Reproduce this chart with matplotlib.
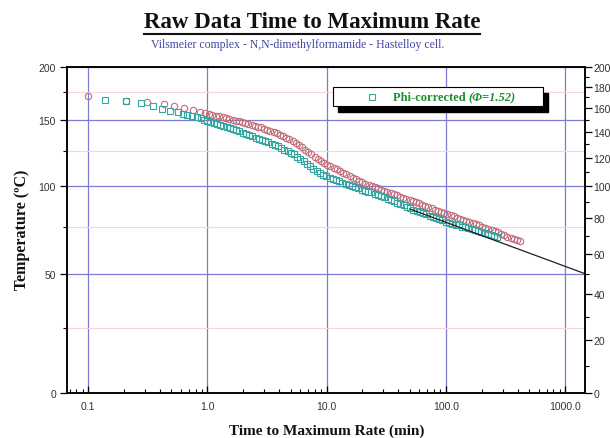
import numpy as np
import matplotlib
matplotlib.use("Agg")
import matplotlib.pyplot as plt
from matplotlib.ticker import FixedLocator, FixedFormatter, NullFormatter, LogLocator
from matplotlib.patches import Rectangle
from matplotlib.lines import Line2D

# ---- data -------------------------------------------------------------
raw_time = [0.10, 0.21, 0.31, 0.43, 0.53, 0.64, 0.76, 0.87, 0.95, 1.03,
            1.10, 1.18, 1.26, 1.35, 1.44, 1.53, 1.63, 1.73, 1.84, 1.96,
            2.08, 2.21, 2.35, 2.50, 2.66, 2.83, 3.00, 3.19, 3.39, 3.60,
            3.83, 4.07, 4.32, 4.59, 4.88, 5.19, 5.51, 5.86, 6.23, 6.62,
            7.03, 7.47, 7.94, 8.44, 8.97, 9.53, 10.1, 10.8, 11.5, 12.2,
            13.0, 13.8, 14.7, 15.6, 16.6, 17.6, 18.7, 19.9, 21.2, 22.5,
            23.9, 25.4, 27.0, 28.7, 30.5, 32.4, 34.5, 36.6, 38.9, 41.4,
            44.0, 46.7, 49.7, 52.8, 56.1, 59.6, 63.4, 67.4, 71.6, 76.1,
            80.9, 86.0, 91.4, 97.1, 103, 110, 117, 124, 132, 140,
            149, 158, 168, 179, 190, 202, 215, 228, 243, 258,
            274, 291, 310, 329, 350, 372, 395, 420]
raw_temp = [171.1, 166.6, 165.6, 163.8, 162.0, 160.2, 158.2, 156.8, 155.8, 154.9,
            154.2, 153.5, 152.8, 152.0, 151.4, 150.5, 149.8, 149.1, 148.5, 147.6,
            146.8, 146.1, 145.4, 144.7, 144.0, 143.5, 142.3, 141.4, 140.5, 139.6,
            138.6, 137.3, 136.3, 135.3, 134.0, 132.5, 131.0, 129.4, 127.8, 126.0,
            124.3, 122.5, 120.8, 119.0, 117.5, 116.1, 115.0, 113.8, 112.6, 111.5,
            110.3, 109.2, 108.1, 107.0, 105.9, 104.8, 103.8, 102.8, 101.8, 101.0,
            100.2, 99.4, 98.6, 97.8, 97.1, 96.3, 95.5, 94.8, 94.1, 93.3,
            92.6, 91.9, 91.4, 90.7, 89.9, 89.1, 88.3, 87.6, 86.8, 86.0,
            85.2, 84.4, 83.6, 82.9, 82.4, 81.7, 81.1, 80.4, 79.7, 79.0,
            78.3, 77.7, 77.0, 76.4, 75.8, 75.2, 74.5, 73.9, 73.2, 72.5,
            71.8, 71.0, 70.2, 69.5, 68.8, 68.2, 67.8, 67.3]

phi_time = [0.14, 0.21, 0.28, 0.35, 0.42, 0.49, 0.57, 0.63, 0.68, 0.75,
            0.82, 0.88, 0.94, 1.00, 1.06, 1.13, 1.20, 1.28, 1.36, 1.45,
            1.54, 1.64, 1.75, 1.86, 1.98, 2.11, 2.24, 2.38, 2.54, 2.70,
            2.87, 3.06, 3.25, 3.46, 3.68, 3.92, 4.17, 4.44, 4.72, 5.02,
            5.35, 5.69, 6.05, 6.44, 6.85, 7.29, 7.76, 8.26, 8.79, 9.35,
            9.95, 10.6, 11.3, 12.0, 12.8, 13.6, 14.5, 15.4, 16.4, 17.4,
            18.5, 19.7, 21.0, 22.3, 23.8, 25.3, 26.9, 28.7, 30.5, 32.5,
            34.6, 36.8, 39.2, 41.7, 44.4, 47.3, 50.3, 53.6, 57.0, 60.7,
            64.6, 68.8, 73.2, 77.9, 82.9, 88.2, 93.9, 100, 106, 113,
            121, 128, 137, 145, 155, 165, 175, 187, 199, 212,
            225, 240, 255, 271]
phi_temp = [167.3, 166.4, 164.6, 161.9, 159.2, 157.6, 156.4, 155.2, 154.3, 153.3,
            152.2, 151.0, 149.9, 148.8, 148.0, 147.1, 146.3, 145.6, 144.8, 143.9,
            143.1, 142.2, 141.1, 140.2, 139.3, 138.5, 137.5, 136.3, 135.0, 133.8,
            133.0, 132.2, 131.4, 130.5, 129.6, 128.6, 127.3, 126.0, 124.9, 123.7,
            122.5, 120.8, 119.0, 117.2, 115.4, 113.7, 112.0, 110.4, 108.9, 107.8,
            106.9, 105.9, 105.0, 104.1, 103.3, 102.5, 101.7, 100.9, 100.1, 99.3,
            98.6, 97.9, 97.2, 96.6, 96.0, 95.2, 94.4, 93.6, 92.8, 92.0,
            91.2, 90.4, 89.6, 88.8, 87.9, 86.8, 86.0, 85.2, 84.5, 83.7,
            83.0, 82.3, 81.5, 80.8, 80.1, 79.4, 78.7, 78.0, 77.4, 76.9,
            76.3, 75.8, 75.2, 74.7, 74.1, 73.6, 73.1, 72.5, 71.9, 71.4,
            70.9, 70.3, 69.8, 69.3]

fit_time = [50.0, 1470.0]
fit_temp = [85.6, 50.0]

x_ticks = [0.1, 1.0, 10.0, 100.0, 1000.0]
x_tick_labels = ["0.1", "1.0", "10.0", "100.0", "1000.0"]
left_ticks = [0, 50, 100, 150, 200]
left_minor = [25, 75, 125, 175]
right_ticks = list(range(0, 201, 20))
right_minor = list(range(10, 200, 20))

title = "Raw Data Time to Maximum Rate"
subtitle = "Vilsmeier complex - N,N-dimethylformamide - Hastelloy cell."
xlabel = "Time to Maximum Rate (min)"
ylabel = "Temperature (ºC)"
legend_label = "Phi-corrected "
legend_phi = "(Φ=1.52)"

# ---- Arrhenius-type temperature axis (linear in -1/T) -----------------
def to_inv(T):
    T = np.asarray(T, dtype=float)
    return -1.0 / (T + 273.15)

def from_inv(u):
    u = np.asarray(u, dtype=float)
    with np.errstate(divide="ignore", invalid="ignore"):
        return -1.0 / u - 273.15

W, H = 610, 439
serif = "Liberation Serif"
sans = "Liberation Sans"

fig = plt.figure(figsize=(W / 100, H / 100), dpi=100)
ax = fig.add_axes([67 / W, 1 - 394 / H, (585 - 67) / W, (394 - 68) / H])

ax.set_xscale("log")
ax.set_yscale("function", functions=(to_inv, from_inv))
ax.set_xlim(0.0666, 1472)
ax.set_ylim(0, 200)

grid_blue = "#7c7cd2"
grid_pink = "#f6d6db"

ax.xaxis.set_major_locator(FixedLocator(x_ticks))
ax.xaxis.set_major_formatter(FixedFormatter(x_tick_labels))
ax.xaxis.set_minor_locator(LogLocator(base=10, subs=np.arange(2, 10), numticks=20))
ax.xaxis.set_minor_formatter(NullFormatter())
ax.yaxis.set_major_locator(FixedLocator(left_ticks))
ax.yaxis.set_minor_locator(FixedLocator(left_minor))
ax.yaxis.set_minor_formatter(NullFormatter())

ax.xaxis.grid(True, which="major", color=grid_blue, lw=0.9)
ax.yaxis.grid(True, which="major", color=grid_blue, lw=0.9)
ax.yaxis.grid(True, which="minor", color=grid_pink, lw=0.8)
ax.set_axisbelow(True)

ax.tick_params(axis="x", which="major", direction="in", length=5, width=0.9,
               labelsize=7.5, labelcolor="#333333", pad=6)
ax.tick_params(axis="x", which="minor", direction="in", length=3, width=0.8)
ax.tick_params(axis="y", which="major", direction="out", length=5, width=0.9,
               labelsize=7.5, labelcolor="#333333", pad=3)
ax.tick_params(axis="y", which="minor", direction="out", length=3, width=0.8)
for lbl in ax.get_xticklabels() + ax.get_yticklabels():
    lbl.set_fontfamily(sans)
for sp in ax.spines.values():
    sp.set_linewidth(1.1)

ax.plot(raw_time, raw_temp, "o", mfc="none", mec="#c26d7b", ms=4.6, mew=0.8,
        zorder=3)
ax.plot(phi_time, phi_temp, "s", mfc="none", mec="#35a6a0", ms=4.0, mew=0.8,
        zorder=4)
ax.plot(fit_time, fit_temp, color="#1e1e1e", lw=0.9, zorder=5, clip_on=False)

# right-hand temperature axis with finer ticks
ax2 = ax.twinx()
ax2.set_yscale("function", functions=(to_inv, from_inv))
ax2.set_ylim(0, 200)
ax2.yaxis.set_major_locator(FixedLocator(right_ticks))
ax2.yaxis.set_minor_locator(FixedLocator(right_minor))
ax2.yaxis.set_minor_formatter(NullFormatter())
ax2.tick_params(axis="y", which="major", direction="out", length=5, width=0.9,
                labelsize=7.5, labelcolor="#333333", pad=1)
ax2.tick_params(axis="y", which="minor", direction="out", length=3, width=0.8)
for lbl in ax2.get_yticklabels():
    lbl.set_fontfamily(sans)
for sp in ax2.spines.values():
    sp.set_linewidth(1.1)

# titles and axis labels
t_title = fig.text(312 / W, 1 - 22 / H, title, ha="center", va="center",
                   fontsize=16.5, fontweight="bold", family=serif, color="#111111")
fig.text(298 / W, 1 - 45 / H, subtitle, ha="center", va="center",
         fontsize=8.5, family=serif, color="#4444aa")
fig.text(327 / W, 1 - 431 / H, xlabel, ha="center", va="center",
         fontsize=11, fontweight="bold", family=serif, color="#111111")
fig.text(22 / W, 1 - 230 / H, ylabel, ha="center", va="center", rotation=90,
         fontsize=11.5, fontweight="bold", family=serif, color="#111111")

# legend box with a solid drop shadow
def fbox(x0, y0, x1, y1, **kw):
    return Rectangle((x0 / W, 1 - y1 / H), (x1 - x0) / W, (y1 - y0) / H,
                     transform=fig.transFigure, **kw)

fig.add_artist(fbox(338, 94, 548, 113, facecolor="black", edgecolor="black",
                    zorder=10))
fig.add_artist(fbox(333, 88, 543, 107, facecolor="white", edgecolor="black",
                    lw=0.8, zorder=11))
fig.add_artist(Line2D([372 / W], [1 - 98 / H], marker="s", mfc="none",
                      mec="#35a6a0", ms=4.0, mew=0.8, transform=fig.transFigure,
                      zorder=12))
t_leg = fig.text(393 / W, 1 - 98 / H, legend_label, ha="left", va="center",
                 fontsize=9, fontweight="bold", family=serif, color="#1f8f2f",
                 zorder=12)
fig.canvas.draw()
bb = t_leg.get_window_extent()
fig.text(bb.x1 / W, 1 - 98 / H, legend_phi, ha="left", va="center",
         fontsize=9, fontweight="bold", style="italic", family=serif,
         color="#1f8f2f", zorder=12)

# underline for the main title
tb = t_title.get_window_extent()
fig.add_artist(Line2D([tb.x0 / W, tb.x1 / W], [(tb.y0 - 2) / H, (tb.y0 - 2) / H],
                      color="#111111", lw=1.5, transform=fig.transFigure))

fig.savefig("out.png", dpi=100)
